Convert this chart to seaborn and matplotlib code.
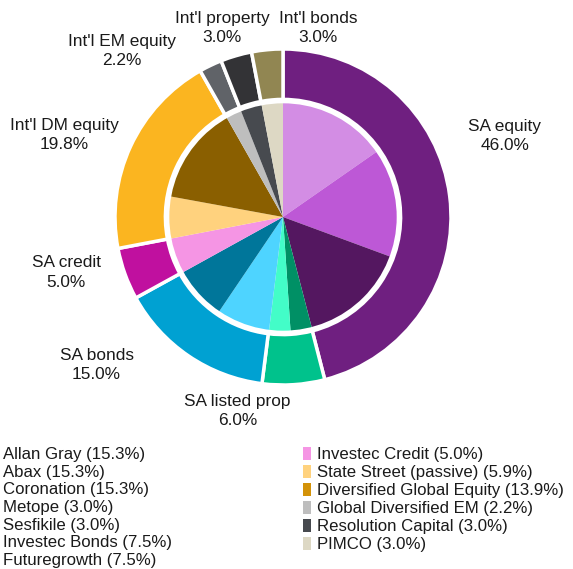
import matplotlib
matplotlib.use('Agg')
import matplotlib.pyplot as plt
from matplotlib.patches import Patch, Circle
import seaborn as sns

# asset classes (outer ring)
asset_names = ["SA equity", "SA listed prop", "SA bonds", "SA credit",
               "Int'l DM equity", "Int'l EM equity", "Int'l property", "Int'l bonds"]
asset_pct = [46.0, 6.0, 15.0, 5.0, 19.8, 2.2, 3.0, 3.0]
asset_colors = ["#6f1f80", "#00c28c", "#00a1d2", "#c0109f",
                "#fbb520", "#606368", "#333336", "#918652"]

# managers (inner pie)
manager_names = ["Allan Gray", "Abax", "Coronation", "Metope", "Sesfikile",
                 "Investec Bonds", "Futuregrowth", "Investec Credit",
                 "State Street (passive)", "Diversified Global Equity",
                 "Global Diversified EM", "Resolution Capital", "PIMCO"]
manager_pct = [15.3, 15.3, 15.3, 3.0, 3.0, 7.5, 7.5, 5.0, 5.9, 13.9, 2.2, 3.0, 3.0]
manager_colors = ["#d38de4", "#bd58d6", "#541760", "#009065", "#43fdc8",
                  "#4ed4ff", "#00769a", "#f595e4", "#ffd27e", "#8a5f00",
                  "#bebebe", "#474a4f", "#ddd8c4"]
legend_colors = manager_colors[:9] + ["#d39208"] + manager_colors[10:]

# label anchor points for the outer ring labels (axes data units)
label_pos = [(1.32, 0.48), (-0.27, -1.155), (-1.11, -0.88), (-1.29, -0.33),
             (-1.30, 0.49), (-0.96, 0.99), (-0.363, 1.125), (0.208, 1.125)]

sns.set_theme(style="white")
plt.rcParams['font.family'] = ['Liberation Sans', 'DejaVu Sans']
fs = 12.4
legend_fs = 12.1

fig = plt.figure(figsize=(5.73, 5.69), dpi=100)
ax = fig.add_axes([115 / 573, 184 / 569, 336 / 573, 336 / 569])

ax.pie(asset_pct, colors=asset_colors, radius=1.0, startangle=90, counterclock=False,
       wedgeprops=dict(width=0.30, edgecolor="white", linewidth=2.5))
ax.pie(manager_pct, colors=manager_colors, radius=0.685, startangle=90, counterclock=False,
       wedgeprops=dict(linewidth=0))
ax.add_patch(Circle((0, 0), 0.685, fill=False, edgecolor="white", linewidth=2))

for name, pct, (x, y) in zip(asset_names, asset_pct, label_pos):
    ax.text(x, y, f"{name}\n{pct:.1f}%", ha="center", va="center",
            fontsize=fs, color="#1a1a1a", linespacing=1.35)

ax.set_xlim(-1, 1)
ax.set_ylim(-1, 1)
ax.set_aspect("equal")
ax.axis("off")

labels = [f"{n} ({p:.1f}%)" for n, p in zip(manager_names, manager_pct)]
left_handles = [Patch(facecolor="none", edgecolor="none") for _ in range(7)]
fig.legend(left_handles, labels[:7], loc="upper left",
           bbox_to_anchor=(3 / 573, 1 - 447 / 569), frameon=False, labelcolor="#1a1a1a",
           fontsize=legend_fs, handlelength=0, handletextpad=0, labelspacing=0.16,
           borderpad=0, borderaxespad=0)
right_handles = [Patch(facecolor=c, edgecolor="none") for c in legend_colors[7:]]
fig.legend(right_handles, labels[7:], loc="upper left",
           bbox_to_anchor=(303 / 573, 1 - 447 / 569), frameon=False, labelcolor="#1a1a1a",
           fontsize=legend_fs, handlelength=0.45, handleheight=0.8, handletextpad=0.4,
           labelspacing=0.16, borderpad=0, borderaxespad=0)

fig.savefig("out.png", dpi=100, facecolor="white")
